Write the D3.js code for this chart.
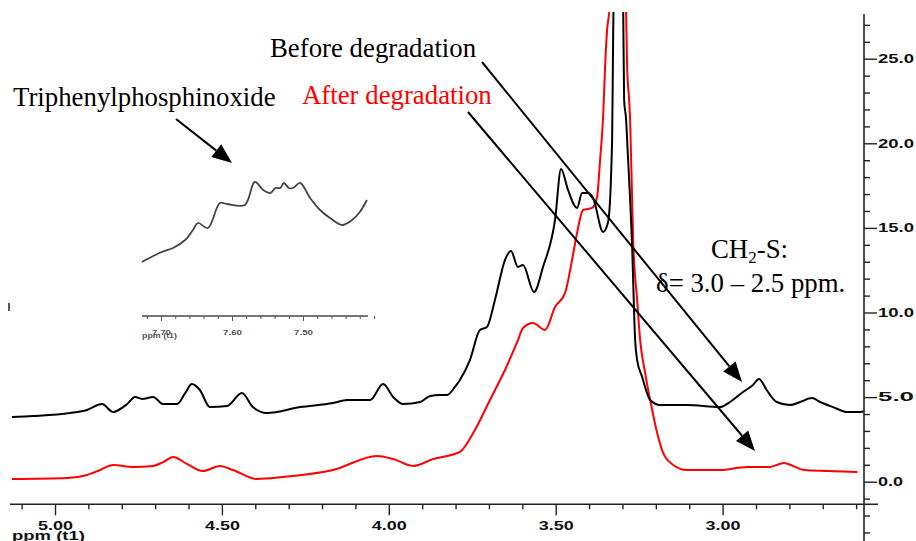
<!DOCTYPE html>
<html><head><meta charset="utf-8">
<script src="https://cdn.jsdelivr.net/npm/d3@7/dist/d3.min.js"></script>
<style>body{margin:0;background:#fff}svg{display:block}</style>
</head><body><svg id="c" width="916" height="541"></svg>
<script>
// ---- data ----
const blackPpm = [5.129,5.066,4.955,4.904,4.859,4.826,4.784,4.760,4.739,4.706,4.676,4.634,4.610,4.590,4.566,4.536,4.485,4.440,4.407,4.365,4.266,4.167,4.125,4.056,4.017,3.987,3.957,3.906,3.876,3.847,3.826,3.802,3.787,3.757,3.727,3.706,3.682,3.652,3.634,3.613,3.598,3.565,3.538,3.502,3.484,3.463,3.436,3.421,3.403,3.388,3.358,3.343,3.331,3.328,3.313,3.298,3.295,3.289,3.286,3.271,3.262,3.256,3.241,3.217,3.187,3.107,3.008,2.978,2.939,2.909,2.891,2.868,2.838,2.798,2.768,2.732,2.708,2.669,2.627,2.588,2.564,2.534];
const blackVal = [3.82,3.88,4.06,4.24,4.59,4.12,4.59,5.01,4.89,5.01,4.59,4.59,5.24,5.77,5.42,4.41,4.47,5.24,4.41,4.06,4.41,4.65,4.83,4.83,5.77,5.01,4.59,4.71,5.07,5.12,5.12,5.60,6.01,7.19,8.97,9.14,10.74,13.10,13.63,12.69,12.81,11.21,12.69,15.47,18.48,17.24,16.18,17.06,17.06,16.77,14.76,15.35,20.19,26.1,40,28.5,22.56,21.38,20.19,13.87,8.37,7.19,6.19,4.83,4.53,4.53,4.41,4.71,5.30,5.72,6.07,5.42,4.71,4.53,4.71,4.95,4.71,4.41,4.12,4.12,4.18,4.18];
const redPpm = [5.129,4.964,4.904,4.865,4.826,4.766,4.706,4.676,4.646,4.605,4.557,4.506,4.467,4.395,4.317,4.167,4.035,3.987,3.927,3.867,3.787,3.742,3.697,3.652,3.613,3.598,3.568,3.532,3.502,3.472,3.451,3.436,3.418,3.391,3.376,3.367,3.358,3.352,3.346,3.340,3.316,3.289,3.286,3.280,3.277,3.268,3.256,3.247,3.232,3.217,3.196,3.178,3.148,3.107,3.008,2.927,2.858,2.816,2.789,2.756,2.685,2.596];
const redVal = [0.16,0.22,0.40,0.69,0.99,0.87,0.93,1.16,1.46,1.05,0.63,0.93,0.69,0.16,0.28,0.69,1.52,1.34,0.93,1.34,1.76,3.06,4.83,6.60,8.37,9.08,9.38,8.97,10.33,11.15,13.10,14.70,16.06,16.18,16.83,19.01,21.55,24.51,26.70,27.70,40,27.70,24.51,22.56,21.38,14.28,10.74,8.37,6.42,4.83,2.88,1.70,0.99,0.69,0.69,0.87,0.87,1.11,0.93,0.69,0.63,0.57];
const insetPpm = [7.727,7.699,7.683,7.666,7.655,7.648,7.634,7.617,7.607,7.582,7.568,7.556,7.546,7.539,7.532,7.527,7.520,7.514,7.504,7.490,7.476,7.462,7.445,7.431,7.420,7.410];
const insetVal = [5.4,6.4,6.8,7.6,8.6,9.3,8.8,11.3,11.2,11.1,13.4,12.6,12.3,12.8,12.8,13.3,12.8,12.8,13.3,11.8,10.6,9.8,9.1,9.6,10.4,11.6];
const xMajorTicks = [5.0,4.5,4.0,3.5,3.0];
const xMinorTicks = [5.1,4.9,4.8,4.7,4.6,4.4,4.3,4.2,4.1,3.9,3.8,3.7,3.6,3.4,3.3,3.2,3.1,2.9,2.8,2.7,2.6];
const yMajorTicks = [0,5,10,15,20,25];
const yMinorTicks = [-3,-2,-1,1,2,3,4,6,7,8,9,11,12,13,14,16,17,18,19,21,22,23,24,26,27];
const insetMajorTicks = [7.70,7.60,7.50];
const insetMinorTicks = [7.72,7.68,7.66,7.64,7.62,7.58,7.56,7.54,7.52,7.48,7.46,7.44,7.42,7.40];
const xAxisTitle = "ppm (t1)";

// ---- drawing ----
const svg = d3.select("#c");
const x = d3.scaleLinear().domain([5.0, 3.0]).range([55, 722.6]);
const y = d3.scaleLinear().domain([0, 25]).range([481.7, 58.7]);

svg.append("defs").append("clipPath").attr("id","plot")
  .append("rect").attr("x",0).attr("y",12).attr("width",864).attr("height",492);

const line = d3.line().x(d=>x(d[0])).y(d=>y(d[1])).curve(d3.curveMonotoneX);
const plot = svg.append("g").attr("clip-path","url(#plot)");
plot.append("path").datum(redPpm.map((p,i)=>[p,redVal[i]]))
  .attr("d",line).attr("fill","none").attr("stroke","#ff0000").attr("stroke-width",2);
plot.append("path").datum(blackPpm.map((p,i)=>[p,blackVal[i]]))
  .attr("d",line).attr("fill","none").attr("stroke","#000").attr("stroke-width",2);

// bottom axis
const axisFont = "'Liberation Sans', Arial, sans-serif";
const bx = svg.append("g").attr("transform","translate(0,504.3)");
bx.append("line").attr("x1",10).attr("x2",878).attr("stroke","#222").attr("stroke-width",1.6);
bx.append("g").call(d3.axisBottom(x).tickValues(xMinorTicks).tickSize(5).tickFormat(""))
  .call(g=>g.select(".domain").remove())
  .selectAll("line").attr("stroke","#222").attr("stroke-width",1.4);
const bmaj = bx.append("g").call(d3.axisBottom(x).tickValues(xMajorTicks).tickSize(11).tickFormat(d3.format(".2f")))
  .call(g=>g.select(".domain").remove());
bmaj.selectAll("line").attr("stroke","#222").attr("stroke-width",1.4);
bmaj.selectAll("text").attr("y",26).attr("dy",0).attr("fill","#111")
  .style("font-family",axisFont).style("font-weight","bold").style("font-size","12px")
  .attr("textLength",35).attr("lengthAdjust","spacingAndGlyphs");
svg.append("text").attr("x",12).attr("y",540).text(xAxisTitle)
  .style("font-family",axisFont).style("font-weight","bold").style("font-size","13px").attr("fill","#111")
  .attr("textLength",73).attr("lengthAdjust","spacingAndGlyphs");

// right axis
const ry = svg.append("g").attr("transform","translate(864,0)");
ry.append("line").attr("y1",14).attr("y2",541).attr("stroke","#222").attr("stroke-width",1.6);
ry.append("g").call(d3.axisRight(y).tickValues(yMinorTicks).tickSize(6).tickFormat(""))
  .call(g=>g.select(".domain").remove())
  .selectAll("line").attr("stroke","#222").attr("stroke-width",1.4);
const rmaj = ry.append("g").call(d3.axisRight(y).tickValues(yMajorTicks).tickSize(13).tickPadding(1).tickFormat(d3.format(".1f")))
  .call(g=>g.select(".domain").remove());
rmaj.selectAll("line").attr("stroke","#222").attr("stroke-width",1.4);
rmaj.selectAll("text").attr("fill","#111")
  .style("font-family",axisFont).style("font-weight","bold").style("font-size","12px")
  .attr("textLength",d=>d===0?25:36).attr("lengthAdjust","spacingAndGlyphs");

// small marks
svg.append("line").attr("x1",9).attr("x2",9).attr("y1",303).attr("y2",311).attr("stroke","#222").attr("stroke-width",1.5);

// inset
const xi = d3.scaleLinear().domain([7.6, 7.5]).range([232, 303]);
const yi = d3.scaleLinear().domain([0, 10]).range([316, 216]);
const ins = svg.append("g");
ins.append("path").datum(insetPpm.map((p,i)=>[p,insetVal[i]]))
  .attr("d",d3.line().x(d=>xi(d[0])).y(d=>yi(d[1])).curve(d3.curveCatmullRom.alpha(0.5)))
  .attr("fill","none").attr("stroke","#444").attr("stroke-width",1.8);
const ia = ins.append("g").attr("transform","translate(0,316)");
ia.append("line").attr("x1",142).attr("x2",368).attr("stroke","#777").attr("stroke-width",1.8);
ia.append("g").call(d3.axisBottom(xi).tickValues(insetMinorTicks).tickSize(3).tickFormat(""))
  .call(g=>g.select(".domain").remove()).selectAll("line").attr("stroke","#555");
const iam = ia.append("g").call(d3.axisBottom(xi).tickValues(insetMajorTicks).tickSize(5).tickFormat(d3.format(".2f")))
  .call(g=>g.select(".domain").remove());
iam.selectAll("line").attr("stroke","#555");
iam.selectAll("text").attr("y",19).attr("dy",0).attr("fill","#555")
  .style("font-family",axisFont).style("font-weight","bold").style("font-size","8px")
  .attr("textLength",19).attr("lengthAdjust","spacingAndGlyphs");
svg.append("text").attr("x",142).attr("y",338).text(xAxisTitle).attr("fill","#555")
  .style("font-family",axisFont).style("font-weight","bold").style("font-size","7px")
  .attr("textLength",35).attr("lengthAdjust","spacingAndGlyphs");

// annotations
const serif = "'Liberation Serif', 'Times New Roman', serif";
function label(t,xp,yp,col){
  return svg.append("text").attr("x",xp).attr("y",yp).attr("fill",col)
    .style("font-family",serif).style("font-size","26.8px").text(t);
}
label("Before degradation",270,57,"#000");
label("After degradation",302,104,"#ff0000");
label("Triphenylphosphinoxide",13,106,"#000");
const ch = svg.append("text").attr("x",711).attr("y",258).attr("fill","#000")
  .style("font-family",serif).style("font-size","26.8px");
ch.append("tspan").text("CH");
ch.append("tspan").attr("dy",5).style("font-size","17px").text("2");
ch.append("tspan").attr("dy",-5).text("-S:");
label("\u03b4= 3.0 \u2013 2.5 ppm.",656,292,"#000");

function arrow(x1,y1,x2,y2,len,hw){
  const a = Math.atan2(y2-y1,x2-x1);
  const bxp = x2 - len*Math.cos(a), byp = y2 - len*Math.sin(a);
  svg.append("line").attr("x1",x1).attr("y1",y1).attr("x2",bxp).attr("y2",byp)
    .attr("stroke","#000").attr("stroke-width",2);
  const px = -Math.sin(a)*hw, py = Math.cos(a)*hw;
  svg.append("path").attr("d",`M${x2},${y2}L${bxp+px},${byp+py}L${bxp-px},${byp-py}Z`).attr("fill","#000");
}
arrow(482,62,742,382,20,8);
arrow(468,112,755,451,20,8);
arrow(176,119,232,163,20,8);
</script></body></html>
